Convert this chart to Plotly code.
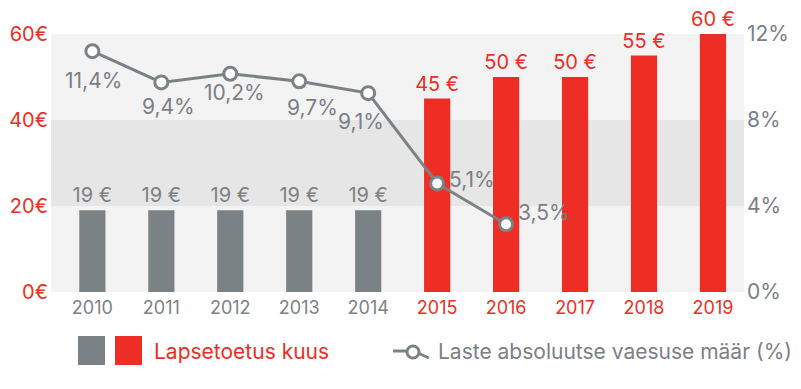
import plotly.graph_objects as go

years = ["2010", "2011", "2012", "2013", "2014", "2015", "2016", "2017", "2018", "2019"]
support = [19, 19, 19, 19, 19, 45, 50, 50, 55, 60]
poverty_years = ["2010", "2011", "2012", "2013", "2014", "2015", "2016"]
# line positions as drawn in the picture (the chart's labels are listed separately)
poverty = [11.2, 9.75, 10.15, 9.8, 9.25, 5.05, 3.15]
poverty_labels = ["11,4%", "9,4%", "10,2%", "9,7%", "9,1%", "5,1%", "3,5%"]
left_ticks = [0, 20, 40, 60]
left_ticktext = ["0€", "20€", "40€", "60€"]
right_ticks = [0, 4, 8, 12]
right_ticktext = ["0%", "4%", "8%", "12%"]

GRAY = "#7b8285"
RED = "#ee2e24"
TXT = "#7b7f86"
FONT = "Inter"

# plot area in page pixels (page body has an 8px offset)
L, T, PW, PH = 51 - 8, 34 - 8, 693, 258

def px_x(x):
    return (x - 51) / PW

def px_y(y):
    return (292 - y) / PH

xi = list(range(len(years)))
bar_colors = [GRAY if int(y) < 2015 else RED for y in years]

fig = go.Figure()
fig.add_trace(go.Bar(
    x=xi, y=support, marker_color=bar_colors, marker_line_width=0, width=0.38,
    text=[f"{v} €" for v in support], textposition="outside", constraintext="none",
    outsidetextfont=dict(color=bar_colors, size=20, family=FONT),
    cliponaxis=False, showlegend=False, hoverinfo="skip",
))
pxs = [years.index(y) for y in poverty_years]
fig.add_trace(go.Scatter(
    x=pxs, y=poverty, yaxis="y2", mode="lines+markers",
    line=dict(color=GRAY, width=3),
    marker=dict(size=13, color="white", line=dict(color=GRAY, width=3)),
    showlegend=False, hoverinfo="skip", cliponaxis=False,
))

# line labels
offsets = [(1, -29), (7, -24), (4, -19), (13, -26), (-7, -28), (35, 4), (38, 12)]
for x, v, lab, (dx, dy) in zip(pxs, poverty, poverty_labels, offsets):
    fig.add_annotation(x=x, y=v, yref="y2", text=lab, showarrow=False,
                       xshift=dx, yshift=dy, font=dict(size=21, color=TXT, family=FONT))

# background bands
bands = [(0, 20, "#f3f3f3"), (20, 40, "#e6e6e6"), (40, 60, "#f3f3f3")]
for y0, y1, c in bands:
    fig.add_shape(type="rect", xref="paper", yref="y", x0=0, x1=1, y0=y0, y1=y1,
                  fillcolor=c, line_width=0, layer="below")

# legend
fig.add_shape(type="rect", xref="paper", yref="paper", x0=px_x(78), x1=px_x(105),
              y0=px_y(336), y1=px_y(365), fillcolor=GRAY, line_width=0)
fig.add_shape(type="rect", xref="paper", yref="paper", x0=px_x(115), x1=px_x(142),
              y0=px_y(336), y1=px_y(365), fillcolor=RED, line_width=0)
fig.add_annotation(xref="paper", yref="paper", x=px_x(152), y=px_y(351),
                   xanchor="left", yanchor="middle", showarrow=False,
                   text="Lapsetoetus kuus", font=dict(size=21, color=RED, family=FONT))
fig.add_shape(type="line", xref="paper", yref="paper", x0=px_x(393), x1=px_x(410),
              y0=px_y(351), y1=px_y(351), line=dict(color=GRAY, width=3))
fig.add_shape(type="line", xref="paper", yref="paper", x0=px_x(418), x1=px_x(429),
              y0=px_y(353), y1=px_y(358), line=dict(color=GRAY, width=3))
fig.add_shape(type="circle", xref="paper", yref="paper", x0=px_x(407), x1=px_x(419),
              y0=px_y(346), y1=px_y(358), fillcolor="white", line=dict(color=GRAY, width=3))
fig.add_annotation(xref="paper", yref="paper", x=px_x(436), y=px_y(351),
                   xanchor="left", yanchor="middle", showarrow=False,
                   text="Laste absoluutse vaesuse määr (%)", font=dict(size=21, color=TXT, family=FONT))

ticktext = [f'<span style="color:{GRAY if int(y) < 2015 else RED}">{y}</span>' for y in years]

fig.update_layout(
    width=785, height=373,
    margin=dict(l=L, r=785 - L - PW, t=T, b=373 - T - PH, autoexpand=False),
    paper_bgcolor="white", plot_bgcolor="white",
    font=dict(family=FONT, size=18, color=TXT),
    bargap=0.6,
    xaxis=dict(range=[-0.6, 9.45], tickvals=xi, ticktext=ticktext, showgrid=False,
               zeroline=False, showline=False, ticks="", tickfont=dict(size=18),
               ticklabelstandoff=3, automargin=False),
    yaxis=dict(range=[0, 60], tickvals=left_ticks, ticktext=left_ticktext, showgrid=False,
               zeroline=False, tickfont=dict(size=20, color=RED, family=FONT), ticks="",
               ticklabelstandoff=2, automargin=False),
    yaxis2=dict(range=[0, 12], tickvals=right_ticks, ticktext=right_ticktext, overlaying="y",
                side="right", showgrid=False, zeroline=False,
                tickfont=dict(size=21, color=TXT, family=FONT), ticks="",
                ticklabelstandoff=2, automargin=False),
)

fig.write_html("out.html")
